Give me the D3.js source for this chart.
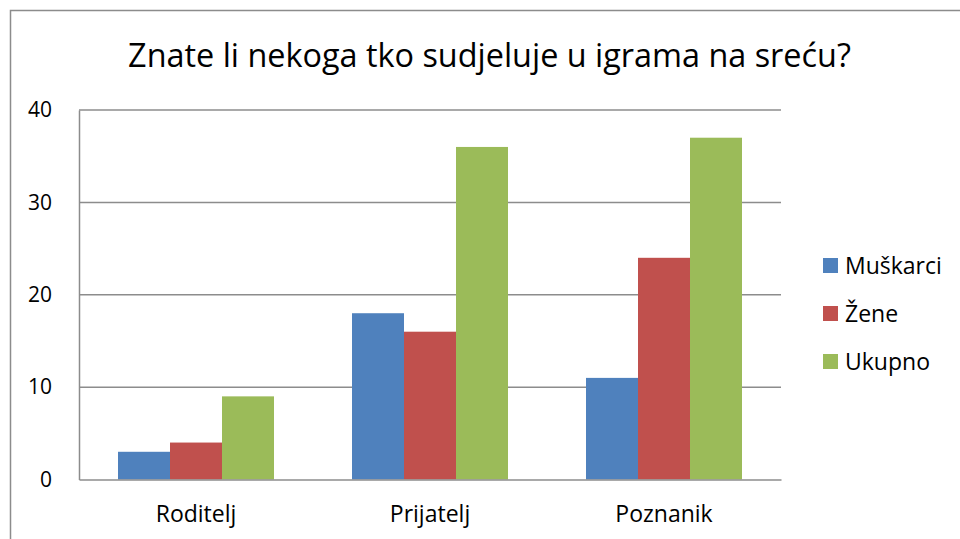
<!DOCTYPE html>
<html>
<head>
<meta charset="utf-8">
<script src="https://cdn.jsdelivr.net/npm/d3@7"></script>
<style>
  body { margin: 0; background: #fff; }
  text { font-family: "Open Sans", sans-serif; fill: #000; }
</style>
</head>
<body>
<div id="chart"></div>
<script>
var categories = ["Roditelj", "Prijatelj", "Poznanik"];
var seriesNames = ["Muškarci", "Žene", "Ukupno"];
var muskarci = [3, 18, 11];
var zene = [4, 16, 24];
var ukupno = [9, 36, 37];
var yTicks = [0, 10, 20, 30, 40];
var colors = ["#4F81BD", "#C0504D", "#9BBB59"];

var svgWidth = 960;
var svgHeight = 539;

var margin = {
    top: 110,
    right: 179,
    bottom: 59.5,
    left: 79
};

var width = svgWidth - margin.left - margin.right;
var height = svgHeight - margin.top - margin.bottom;

var svg = d3.select("#chart")
    .append("svg")
    .attr("width", svgWidth)
    .attr("height", svgHeight);

// outer chart border
svg.append("rect")
    .attr("x", 10.5)
    .attr("y", 10.5)
    .attr("width", 1000)
    .attr("height", 1000)
    .attr("fill", "none")
    .attr("stroke", "#8c8c8c")
    .attr("stroke-width", 1.5);

svg.append("text")
    .attr("x", 489.5)
    .attr("y", 67)
    .attr("font-size", 32.4)
    .style("text-anchor", "middle")
    .text("Znate li nekoga tko sudjeluje u igrama na sreću?");

var chartGroup = svg.append("g")
    .attr("transform", `translate(${margin.left}, ${margin.top})`);

var series = [muskarci, zene, ukupno];
var data = [];
categories.forEach(function(c, i) {
    series.forEach(function(s, j) {
        data.push({cat: c, name: seriesNames[j], value: s[i], idx: j});
    });
});

var xBand = d3.scaleBand().domain(categories).range([0, width])
    .paddingInner(1 / 3).paddingOuter(1 / 6);
var xInner = d3.scaleBand().domain(seriesNames).range([0, xBand.bandwidth()]);
var yLinearScale = d3.scaleLinear().domain([0, 40]).range([height, 0]);

// gridlines
chartGroup.selectAll(".grid")
    .data(yTicks.slice(1))
    .enter()
    .append("line")
    .attr("x1", 0)
    .attr("x2", width)
    .attr("y1", d => yLinearScale(d))
    .attr("y2", d => yLinearScale(d))
    .attr("stroke", "#8c8c8c")
    .attr("stroke-width", 1.5);

chartGroup.selectAll("rect.bar")
    .data(data)
    .enter()
    .append("rect")
    .attr("class", "bar")
    .attr("x", d => xBand(d.cat) + xInner(d.name))
    .attr("y", d => yLinearScale(d.value))
    .attr("width", xInner.bandwidth())
    .attr("height", d => height - yLinearScale(d.value))
    .attr("fill", d => colors[d.idx]);

var leftAxis = d3.axisLeft(yLinearScale).tickValues(yTicks).tickSize(0).tickPadding(27);
var gy = chartGroup.append("g").call(leftAxis);
gy.select(".domain").attr("stroke", "#8c8c8c").attr("stroke-width", 1.5);
gy.selectAll("text").attr("font-size", 21).attr("font-family", "'Open Sans', sans-serif");

var bottomAxis = d3.axisBottom(xBand).tickSize(0).tickPadding(26);
var gx = chartGroup.append("g")
    .attr("transform", `translate(0,${height})`)
    .call(bottomAxis);
gx.select(".domain").attr("stroke", "#8c8c8c").attr("stroke-width", 1.5);
gx.selectAll("text").attr("font-size", 23).attr("font-family", "'Open Sans', sans-serif");

// legend
var legend = svg.append("g")
    .attr("transform", "translate(823, 258)");
var items = legend.selectAll("g")
    .data(seriesNames)
    .enter()
    .append("g")
    .attr("transform", (d, i) => `translate(0, ${i * 48})`);
items.append("rect")
    .attr("width", 15)
    .attr("height", 15)
    .attr("fill", (d, i) => colors[i]);
items.append("text")
    .attr("x", 22)
    .attr("y", 8)
    .attr("dy", "0.35em")
    .attr("font-size", 23)
    .text(d => d);
</script>
</body>
</html>
